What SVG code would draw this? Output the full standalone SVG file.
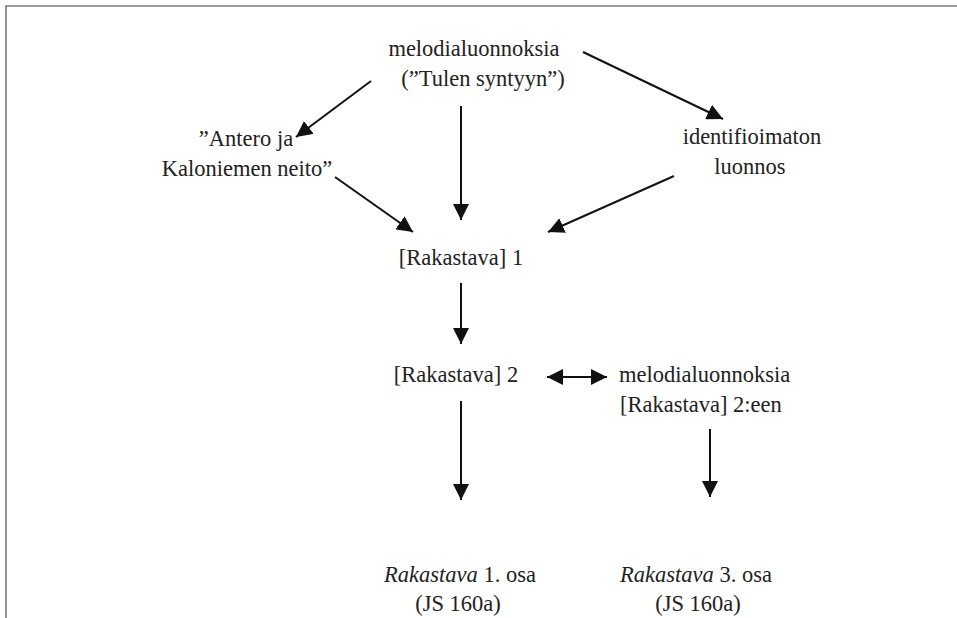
<svg xmlns="http://www.w3.org/2000/svg" width="957" height="618" viewBox="0 0 957 618">
<style>
  .lbl { font-family: "Liberation Serif", "DejaVu Serif", "Times New Roman", serif; font-size: 22.5px; fill: #222; text-anchor: middle; }
  .left { text-anchor: start; }
  .edge { stroke: #111; stroke-width: 2; fill: none; marker-end: url(#ah); }
  .frame { stroke: #7a7a7a; stroke-width: 1.6; fill: none; }
  .it { font-style: italic; }
</style>
<defs>
  <marker id="ah" markerUnits="userSpaceOnUse" markerWidth="18" markerHeight="16" refX="16" refY="8" orient="auto-start-reverse">
    <path d="M0,0 L16,8 L0,16 z" fill="#111"/>
  </marker>
</defs>
<rect width="957" height="618" fill="#fff"/>
<g id="frame">
  <line class="frame" x1="5" y1="6" x2="957" y2="6"/>
  <line class="frame" x1="6" y1="6" x2="6" y2="618"/>
</g>
<g id="connectors">
  <line class="edge" x1="371" y1="81" x2="296" y2="137"/>
  <line class="edge" x1="461" y1="106" x2="461" y2="220"/>
  <line class="edge" x1="583" y1="52" x2="723" y2="119"/>
  <line class="edge" x1="335" y1="177" x2="413" y2="232"/>
  <line class="edge" x1="674" y1="176" x2="548" y2="232"/>
  <line class="edge" x1="461" y1="283" x2="461" y2="344"/>
  <line class="edge" x1="547" y1="377" x2="607" y2="377" marker-start="url(#ah)"/>
  <line class="edge" x1="461" y1="401" x2="461" y2="500"/>
  <line class="edge" x1="710" y1="429" x2="710" y2="497"/>
</g>
<g id="n-melodia-top">
  <text class="lbl" x="474" y="56">melodialuonnoksia</text>
  <text class="lbl" x="483" y="86">(”Tulen syntyyn”)</text>
</g>
<g id="n-antero">
  <text class="lbl" x="246" y="146">”Antero ja</text>
  <text class="lbl" x="247" y="176">Kaloniemen neito”</text>
</g>
<g id="n-identifioimaton">
  <text class="lbl" x="752" y="144">identifioimaton</text>
  <text class="lbl" x="750" y="174">luonnos</text>
</g>
<g id="n-rakastava1">
  <text class="lbl" x="461" y="265">[Rakastava] 1</text>
</g>
<g id="n-rakastava2">
  <text class="lbl" x="456" y="382">[Rakastava] 2</text>
</g>
<g id="n-melodia-2een">
  <text class="lbl left" x="619" y="382">melodialuonnoksia</text>
  <text class="lbl left" x="620" y="412">[Rakastava] 2:een</text>
</g>
<g id="n-osa1">
  <text class="lbl" x="460" y="582"><tspan class="it">Rakastava</tspan> 1. osa</text>
  <text class="lbl" x="458" y="611">(JS 160a)</text>
</g>
<g id="n-osa3">
  <text class="lbl" x="696" y="582"><tspan class="it">Rakastava</tspan> 3. osa</text>
  <text class="lbl" x="698" y="611">(JS 160a)</text>
</g>
</svg>
